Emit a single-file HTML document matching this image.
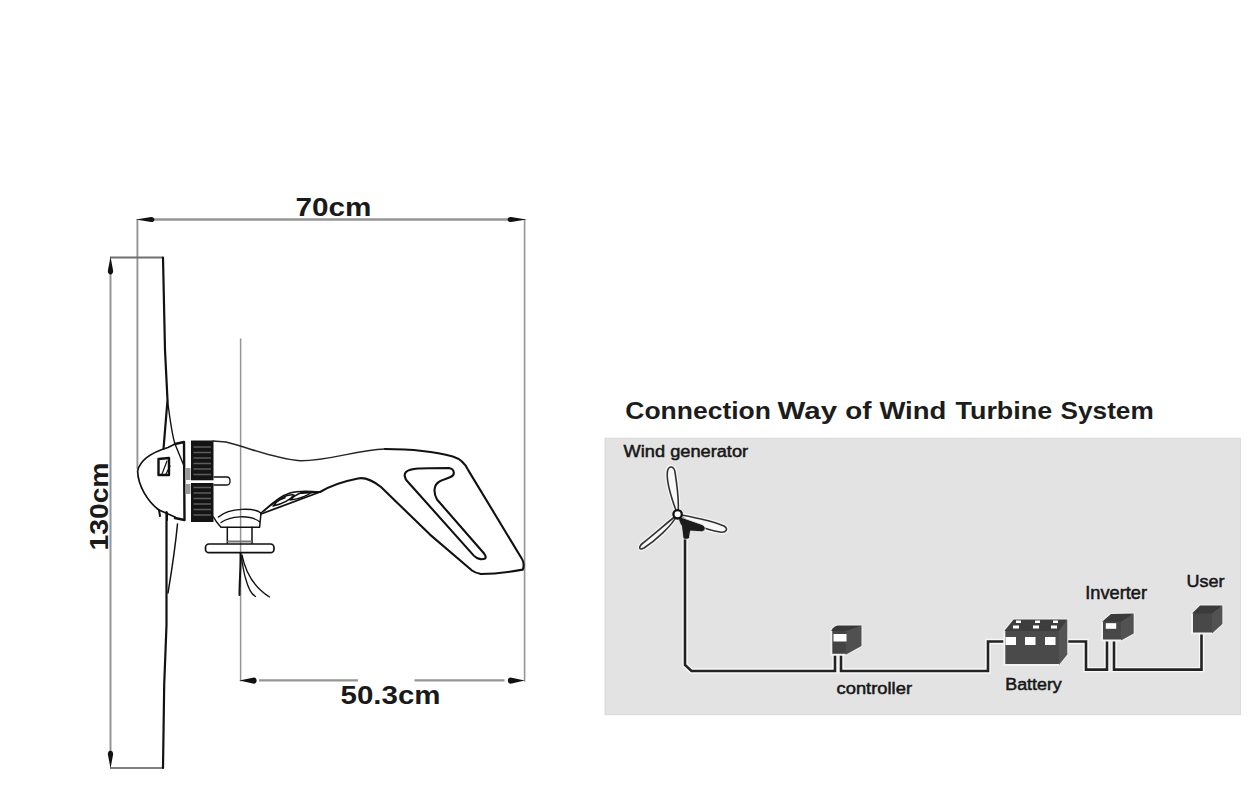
<!DOCTYPE html>
<html><head><meta charset="utf-8">
<style>
html,body{margin:0;padding:0;background:#fff;width:1252px;height:800px;overflow:hidden}
svg{display:block}
text{font-family:"Liberation Sans",sans-serif}
</style></head>
<body>
<svg width="1252" height="800" viewBox="0 0 1252 800">
<rect x="0" y="0" width="1252" height="800" fill="#fff"/>

<!-- ===== dimension lines ===== -->
<g stroke="#959595" fill="none">
  <line x1="152" y1="219.5" x2="510" y2="219.5" stroke-width="2.4"/>
  <line x1="137.4" y1="219" x2="137.4" y2="469" stroke-width="1.9"/>
  <line x1="524.6" y1="219" x2="524.6" y2="681.5" stroke-width="1.6"/>
  <line x1="110.5" y1="272" x2="110.5" y2="752" stroke-width="2"/>
  <line x1="110" y1="257.5" x2="163" y2="257.5" stroke-width="2" stroke="#707070"/>
  <line x1="110" y1="768" x2="163" y2="768" stroke-width="2" stroke="#808080"/>
  <line x1="240.6" y1="338.5" x2="240.6" y2="681.5" stroke-width="1.5"/>
  <line x1="259" y1="680.4" x2="358" y2="680.4" stroke-width="2.4"/>
  <line x1="414.5" y1="680.4" x2="504.5" y2="680.4" stroke-width="2.4"/>
</g>
<g fill="#111">
  <path d="M136 219.5 L151 216.9 C155.5 216.9 155.5 222.1 151 222.1 Z"/>
  <path d="M526.5 219.5 L511 216.9 C506.5 216.9 506.5 222.1 511 222.1 Z"/>
  <path d="M110.5 256.5 L107.8 271 C107.8 275.5 113.2 275.5 113.2 271 Z"/>
  <path d="M110.5 768.5 L107.8 754 C107.8 749.5 113.2 749.5 113.2 754 Z"/>
  <path d="M239.3 680.6 L254 677.5 C257.5 677.5 257.5 683.7 254 683.7 Z"/>
  <path d="M524.8 680.6 L510.5 677.5 C507 677.5 507 683.7 510.5 683.7 Z"/>
</g>
<text x="295.5" y="216.3" font-size="25.5" font-weight="bold" fill="#1a1a1a" textLength="76" lengthAdjust="spacingAndGlyphs">70cm</text>
<text x="340.5" y="704.3" font-size="25.5" font-weight="bold" fill="#1a1a1a" textLength="100" lengthAdjust="spacingAndGlyphs">50.3cm</text>
<text transform="translate(108.3,550.5) rotate(-90)" x="0" y="0" font-size="25.5" font-weight="bold" fill="#1a1a1a" textLength="88" lengthAdjust="spacingAndGlyphs">130cm</text>

<!-- ===== turbine drawing ===== -->
<g id="turbine" fill="none" stroke="#111" stroke-linejoin="round" stroke-linecap="round">
  <!-- blade upper -->
  <path d="M163 257.5 L165 350 L167.5 400 L163.5 449" stroke-width="2.2"/>
  <path d="M167.5 400 C170 420 172 435 175 444 L184 466" stroke-width="1.4"/>
  <!-- blade lower -->
  <path d="M163 768 L164.2 685 L166.5 625 L166.5 512" stroke-width="2.2"/>
  <path d="M168 593 C171 575 175 550 177.5 524" stroke-width="1.5"/>
  <!-- nose cone -->
  <path d="M175 444 L168 447.5 C153 452 140 460 137.6 471 C138 486 148 502 159 510 L175 517" stroke-width="1.7"/>
  <path d="M159 510 L160 516 M167 513 L167 520" stroke-width="2"/>
  <path d="M175 444 L184 442 L184.5 520 L175 518" stroke-width="2.4"/>
  <!-- blade root block -->
  <path d="M158.5 459 L169 458 L169 475 L158.5 475 Z" stroke-width="2.4"/>
  <path d="M162 474 L167 461 M166 474 L170 466" stroke-width="1.2"/>
  <!-- body outline -->
  <path d="M213 441 L226 442 C250 448 275 459 300 460.7 C330 461 355 450 385 449" stroke-width="1.5" stroke="#262626"/>
  <path d="M385 449 C420 449 440 453 452.8 456.6 C459 458.5 465 463 468.5 470.6 L522 559 C524 562 524 567 522.8 569.6 C510 572 495 574 480.8 574 C476 573 474 572 472 570.5 L430 534.6 L381 487 C372 480 365 477 358 478.5 C340 482 330 486 320 492 L301 493" stroke-width="2.1"/>
  <!-- slot -->
  <path d="M406 472 C410 468 420 468 449 468 C455 469 455 475 451 476.8 C446 479 441 480 438.8 482 C434 485 433 492 437 499.5 L484.3 553.8 C486 556 486 558 485 558.5 C482 560 477 559 473.8 555.6 L408 482 C404 478 404 474 406 472 Z" stroke-width="2.1"/>
  <!-- fins -->
  <path d="M261 514 L320 492" stroke-width="1.8"/>
  <path d="M264 511 C272 503 280 496 290 493 C300 490 310 491 319 492" stroke-width="1.5"/>
  <path d="M273 506 C280 498 288 494 294 495 C290 500 282 504 273 506 Z M290 500 C296 494 304 491 312 492 C306 497 298 499 290 500 Z" stroke-width="1.4"/>
  <!-- yaw collar -->
  <path d="M213.5 517 C216 522 219 525 221 527.3 L259.6 527.3 L261 513 C255 508 230 507 218.4 517" stroke-width="1.5"/>
  <path d="M221 522.5 C230 516 250 514 259.6 521.8" stroke-width="1.3"/>
  <path d="M261 513 C270 505 278 500 285 497.7" stroke-width="1.5"/>
  <!-- neck -->
  <path d="M227.3 527.3 L227.3 543.5 M252 527.3 L252 543.5" stroke-width="1.5"/>
  <path d="M228 541.5 L251 541.5" stroke="#777" stroke-width="2"/>
  <!-- flange -->
  <rect x="205.5" y="544" width="68.5" height="8.7" rx="3.5" stroke-width="1.7"/>
  <!-- wires -->
  <path d="M240.5 553 C241 565 239.5 580 239.5 595" stroke-width="2"/>
  <path d="M241 556 C243 566 244 574 245.5 578 C248 588 251 594 255.5 596.5 M242 555 C245 570 252 586 269.5 597" stroke-width="1.3"/>
  <!-- pin -->
  <path d="M214 477 L227 477 C231 477 231 485 227 485 L214 485" stroke-width="1.3"/>
</g>
<!-- generator ring -->
<rect x="191" y="440.5" width="22.5" height="81.5" fill="#141414"/>
<g stroke="#5c5c5c" stroke-width="1.5">
  <line x1="193.5" y1="447" x2="211" y2="447"/>
  <line x1="193.5" y1="452.5" x2="211" y2="452.5"/>
  <line x1="193.5" y1="458" x2="211" y2="458"/>
  <line x1="193.5" y1="463.5" x2="211" y2="463.5"/>
  <line x1="193.5" y1="469" x2="211" y2="469"/>
  <line x1="193.5" y1="474.5" x2="211" y2="474.5"/>
  <line x1="193.5" y1="487.5" x2="211" y2="487.5"/>
  <line x1="193.5" y1="493" x2="211" y2="493"/>
  <line x1="193.5" y1="498.5" x2="211" y2="498.5"/>
  <line x1="193.5" y1="504" x2="211" y2="504"/>
  <line x1="193.5" y1="509.5" x2="211" y2="509.5"/>
  <line x1="193.5" y1="515" x2="211" y2="515"/>
</g>
<rect x="186" y="480.3" width="42" height="2.7" fill="#fff"/>
<rect x="185.5" y="468" width="5" height="12" fill="#999"/>
<rect x="185.5" y="484" width="5" height="10" fill="#999"/>

<!-- ===== right panel ===== -->
<g font-size="24.5" font-weight="bold" fill="#1c1c1c">
<text x="625.3" y="419.2" textLength="145.7" lengthAdjust="spacingAndGlyphs">Connection</text>
<text x="777.6" y="419.2" textLength="59.4" lengthAdjust="spacingAndGlyphs">Way</text>
<text x="845.3" y="419.2" textLength="26.2" lengthAdjust="spacingAndGlyphs">of</text>
<text x="879.4" y="419.2" textLength="67.0" lengthAdjust="spacingAndGlyphs">Wind</text>
<text x="955.5" y="419.2" textLength="96.7" lengthAdjust="spacingAndGlyphs">Turbine</text>
<text x="1060.6" y="419.2" textLength="93.1" lengthAdjust="spacingAndGlyphs">System</text>
</g>
<rect x="605" y="438.2" width="635.5" height="276.5" fill="#e3e3e3" stroke="#dadada" stroke-width="1"/>


<!-- panel content -->
<g fill="#161616" stroke="#161616" stroke-width="0.5" font-size="16.3">
<text x="623.6" y="457.2" textLength="124.5" lengthAdjust="spacingAndGlyphs">Wind generator</text>
<text x="836.5" y="693.6" textLength="75.5" lengthAdjust="spacingAndGlyphs">controller</text>
<text x="1005.3" y="689.6" textLength="56.5" lengthAdjust="spacingAndGlyphs">Battery</text>
<text x="1085.3" y="598.5" font-size="17.8" textLength="61.7" lengthAdjust="spacingAndGlyphs">Inverter</text>
<text x="1186.6" y="586.7" font-size="16.8" textLength="38" lengthAdjust="spacingAndGlyphs">User</text>
</g>
<!-- wires: white halo then dark -->
<g fill="none" stroke-linejoin="miter">
 <path id="w1" d="M685 536 L685 665 L691.5 671 L835 671 L835 655 M841 655 L841 671 L988 671 L988 641.5 L1005 641.5 M1066 641.5 L1086 641.5 L1086 669.6 L1107 669.6 L1107 640 M1114 640 L1114 669.6 L1201.5 669.6 L1201.5 632" stroke="#f8f8f8" stroke-width="5.4"/>
 <path d="M685 536 L685 665 L691.5 671 L835 671 L835 655 M841 655 L841 671 L988 671 L988 641.5 L1005 641.5 M1066 641.5 L1086 641.5 L1086 669.6 L1107 669.6 L1107 640 M1114 640 L1114 669.6 L1201.5 669.6 L1201.5 632" stroke="#222" stroke-width="2.6"/>
</g>
<!-- controller box -->
<path d="M831.3 631 C832 628 835 625.5 839 625.5 L861.5 625.5 L861.5 646 L845.7 654.8 L831.3 654.8 Z" fill="#444" stroke="#f2f2f2" stroke-width="2"/>
<path d="M831.3 631 C832 628 835 625.5 839 625.5 L861.5 625.5 L855.5 631 Z" fill="#383838"/>
<path d="M845.7 631 L861.5 625.5 L861.5 646 L845.7 654.8 Z" fill="#505050"/>
<rect x="833.5" y="634" width="13" height="7.5" fill="#fff"/>
<!-- battery -->
<path d="M1004.3 631 L1013.6 619.5 L1067.3 619.5 L1067.3 654.4 L1059 665 L1004.3 665 Z" fill="#4a4a4a" stroke="#f2f2f2" stroke-width="2"/>
<path d="M1004.3 631 L1013.6 619.5 L1067.3 619.5 L1059 631 Z" fill="#3e3e3e"/>
<path d="M1059 631 L1067.3 619.5 L1067.3 654.4 L1059 665 Z" fill="#555"/>
<g fill="#fff">
 <rect x="1005.5" y="637" width="10.5" height="8"/>
 <rect x="1025" y="637" width="10.5" height="8"/>
 <rect x="1045" y="637" width="10.5" height="8"/>
 <rect x="1013" y="625.5" width="6" height="3"/>
 <rect x="1033" y="625.5" width="6" height="3"/>
 <rect x="1051" y="625.5" width="6" height="3"/>
 <rect x="1016" y="620.5" width="5" height="2.5"/>
 <rect x="1035" y="620.5" width="5" height="2.5"/>
 <rect x="1053" y="620.5" width="5" height="2.5"/>
</g>
<!-- inverter -->
<path d="M1102 621.8 L1111 614 L1133.7 613.5 L1133.7 633.5 L1121 640.5 L1102 640.5 Z" fill="#484848" stroke="#f2f2f2" stroke-width="2"/>
<path d="M1102 621.8 L1111 614 L1133.7 613.5 L1121 621.8 Z" fill="#3a3a3a"/>
<path d="M1121 621.8 L1133.7 613.5 L1133.7 633.5 L1121 640.5 Z" fill="#525252"/>
<rect x="1105.8" y="623.2" width="10.4" height="5.6" fill="#fff"/>
<!-- user -->
<path d="M1192 613.6 L1200 605.5 L1222.4 605.5 L1222.4 624 L1212 633.5 L1192 633.5 Z" fill="#484848" stroke="#f2f2f2" stroke-width="2"/>
<path d="M1192 613.6 L1200 605.5 L1222.4 605.5 L1212 613.6 Z" fill="#3a3a3a"/>
<path d="M1212 613.6 L1222.4 605.5 L1222.4 624 L1212 633.5 Z" fill="#525252"/>
<!-- small turbine -->
<g stroke="#f6f6f6" stroke-width="4.2" fill="#f6f6f6">
 <path d="M677.5 514.5 C672 500 666 480 667.5 471 C669 465 674 466 675 472 C677 485 680 505 677.5 514.5 Z"/>
 <path d="M677.5 514.5 C690 516 715 522 724 526 C729 529 726 533 720 532 C705 530 688 522 677.5 514.5 Z"/>
 <path d="M677.5 514.5 C668 522 652 536 643 543 C638 547 639 551 644 548 C655 541 672 526 677.5 514.5 Z"/>
</g>
<g stroke="#333" stroke-width="1.6" fill="#f8f8f8">
 <path d="M677.5 514.5 C672 500 666 480 667.5 471 C669 465 674 466 675 472 C677 485 680 505 677.5 514.5 Z"/>
 <path d="M677.5 514.5 C690 516 715 522 724 526 C729 529 726 533 720 532 C705 530 688 522 677.5 514.5 Z"/>
 <path d="M677.5 514.5 C668 522 652 536 643 543 C638 547 639 551 644 548 C655 541 672 526 677.5 514.5 Z"/>
</g>
<path d="M679 516.5 L702 524.5 C706.5 526.5 706 531.5 701.5 531.8 L690.5 531 L689.5 537.5 C689 539.5 684 540 683 538 L681.5 526 C679 522 678 519 679 516.5 Z" fill="#1c1c1c" stroke="#f4f4f4" stroke-width="0.8"/>
<circle cx="677.6" cy="514.3" r="4.2" fill="#fff" stroke="#111" stroke-width="2.3"/>
</svg>
</body></html>
